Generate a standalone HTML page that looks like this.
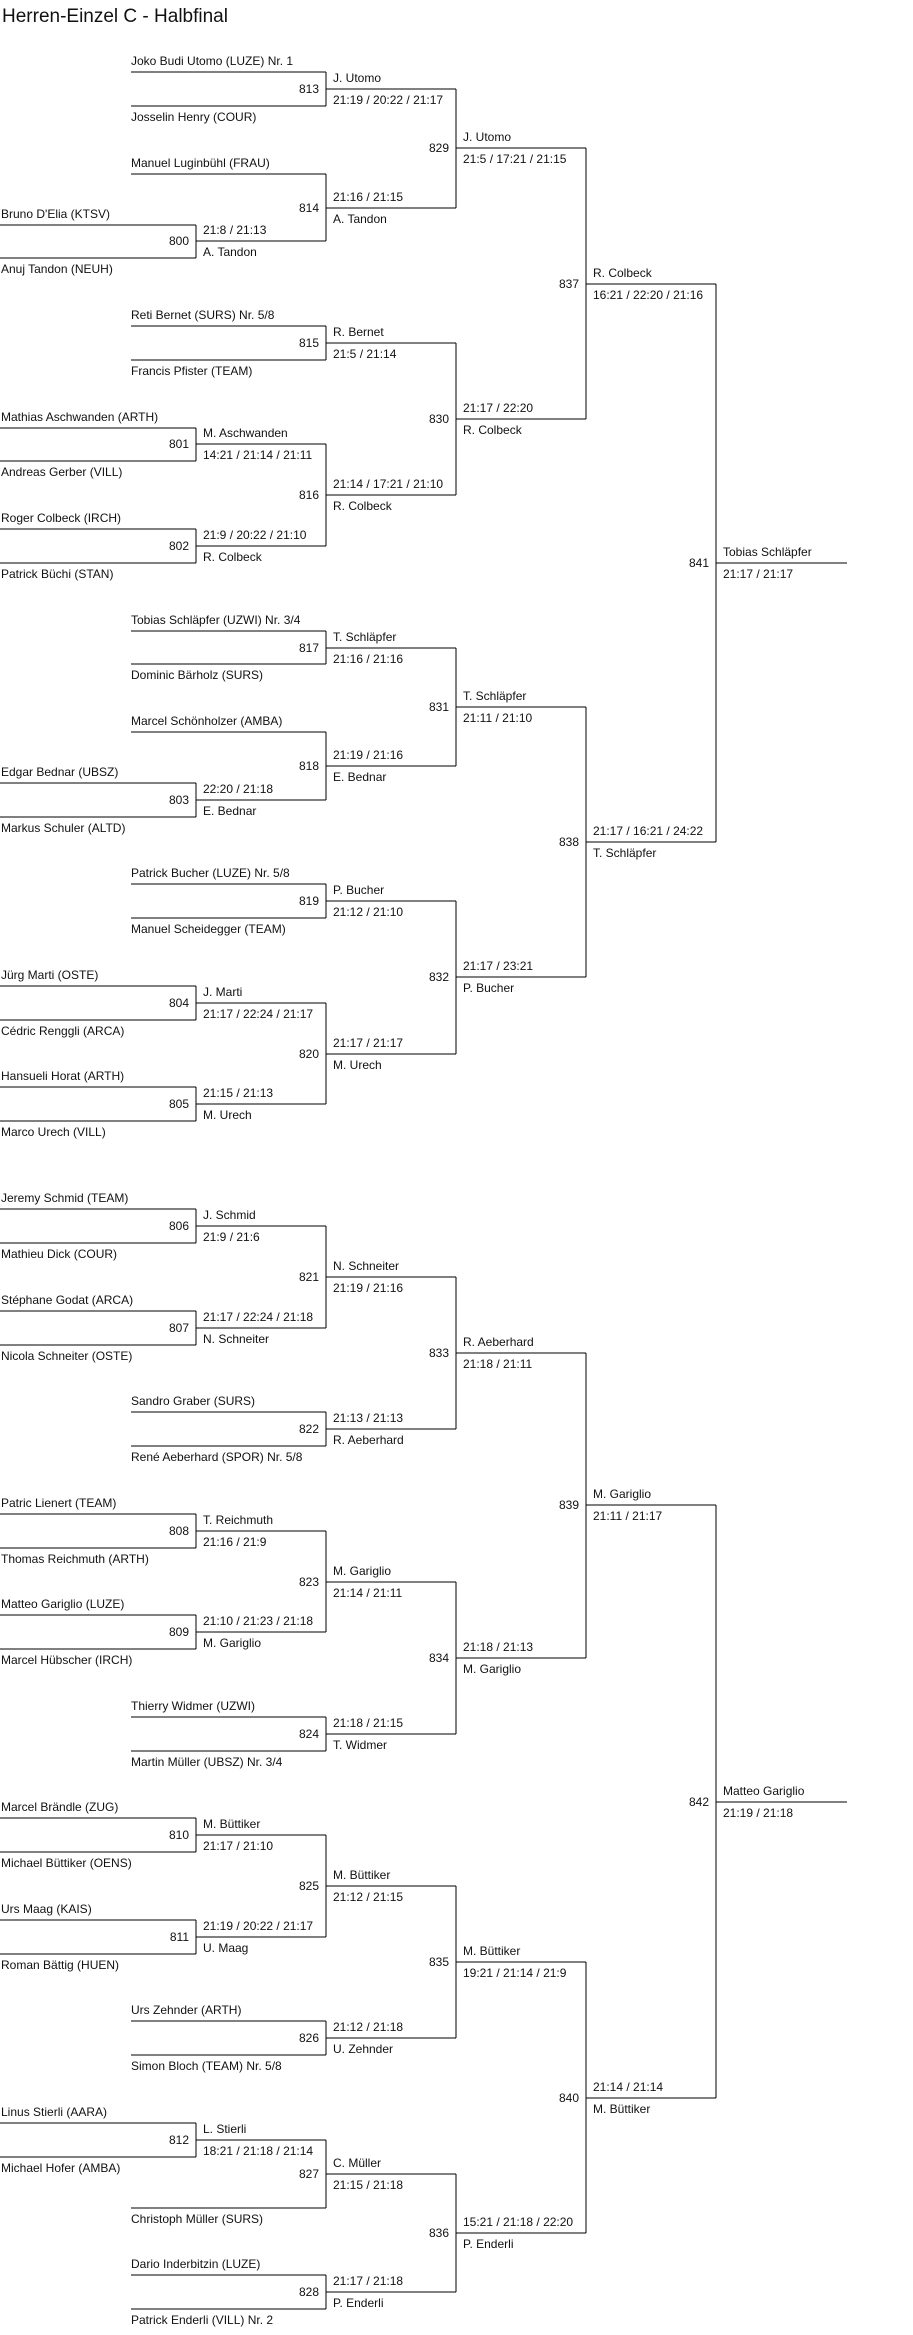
<!DOCTYPE html>
<html><head><meta charset="utf-8"><style>
html,body{margin:0;padding:0;background:#fff;}
svg{display:block;}
text{font-family:"Liberation Sans",Arial,sans-serif;font-size:12px;fill:#111;}
.t{font-size:19px;}
.e{text-anchor:end;}
</style></head><body>
<svg width="913" height="2335" viewBox="0 0 913 2335" xmlns="http://www.w3.org/2000/svg">
<text class="t" x="2" y="22">Herren-Einzel C - Halbfinal</text>
<g stroke="#000" stroke-width="1" fill="none" shape-rendering="crispEdges">
<path d="M0 225H196M0 258H196M0 428H196M0 461H196M0 529H196M0 563H196M0 783H196M0 817H196M0 986H196M0 1020H196M0 1087H196M0 1121H196"/>
<path d="M131 72H326M131 106H326M131 174H326M131 326H326M131 360H326M131 631H326M131 664H326M131 732H326M131 884H326M131 918H326"/>
<path d="M0 1209H196M0 1243H196M0 1311H196M0 1345H196M0 1514H196M0 1548H196M0 1615H196M0 1649H196M0 1818H196M0 1852H196M0 1920H196M0 1954H196M0 2123H196M0 2157H196"/>
<path d="M131 1412H326M131 1446H326M131 1717H326M131 1751H326M131 2021H326M131 2055H326M131 2208H326M131 2275H326M131 2309H326"/>
<path d="M196 225V258M196 241H326M196 428V461M196 444H326M196 529V563M196 546H326M196 783V817M196 800H326M196 986V1020M196 1003H326M196 1087V1121M196 1104H326"/>
<path d="M326 72V106M326 89H456M326 174V241M326 208H456M326 326V360M326 343H456M326 444V546M326 495H456M326 631V664M326 648H456M326 732V800M326 766H456M326 884V918M326 901H456M326 1003V1104M326 1054H456"/>
<path d="M456 89V208M456 148H586M456 343V495M456 419H586M456 648V766M456 707H586M456 901V1054M456 977H586"/>
<path d="M586 148V419M586 284H716M586 707V977M586 842H716M716 284V842M716 563H847"/>
<path d="M196 1209V1243M196 1226H326M196 1311V1345M196 1328H326M196 1514V1548M196 1531H326M196 1615V1649M196 1632H326M196 1818V1852M196 1835H326M196 1920V1954M196 1937H326M196 2123V2157M196 2140H326"/>
<path d="M326 1226V1328M326 1277H456M326 1412V1446M326 1429H456M326 1531V1632M326 1582H456M326 1717V1751M326 1734H456M326 1835V1937M326 1886H456M326 2021V2055M326 2038H456M326 2140V2208M326 2174H456M326 2275V2309M326 2292H456"/>
<path d="M456 1277V1429M456 1353H586M456 1582V1734M456 1658H586M456 1886V2038M456 1962H586M456 2174V2292M456 2233H586"/>
<path d="M586 1353V1658M586 1505H716M586 1962V2233M586 2098H716M716 1505V2098M716 1802H847"/>
</g>
<g>
<!-- players top half -->
<text x="131" y="65">Joko Budi Utomo (LUZE) Nr. 1</text>
<text x="131" y="121">Josselin Henry (COUR)</text>
<text x="131" y="167">Manuel Luginbühl (FRAU)</text>
<text x="1" y="218">Bruno D'Elia (KTSV)</text>
<text x="1" y="273">Anuj Tandon (NEUH)</text>
<text x="131" y="319">Reti Bernet (SURS) Nr. 5/8</text>
<text x="131" y="375">Francis Pfister (TEAM)</text>
<text x="1" y="421">Mathias Aschwanden (ARTH)</text>
<text x="1" y="476">Andreas Gerber (VILL)</text>
<text x="1" y="522">Roger Colbeck (IRCH)</text>
<text x="1" y="578">Patrick Büchi (STAN)</text>
<text x="131" y="624">Tobias Schläpfer (UZWI) Nr. 3/4</text>
<text x="131" y="679">Dominic Bärholz (SURS)</text>
<text x="131" y="725">Marcel Schönholzer (AMBA)</text>
<text x="1" y="776">Edgar Bednar (UBSZ)</text>
<text x="1" y="832">Markus Schuler (ALTD)</text>
<text x="131" y="877">Patrick Bucher (LUZE) Nr. 5/8</text>
<text x="131" y="933">Manuel Scheidegger (TEAM)</text>
<text x="1" y="979">Jürg Marti (OSTE)</text>
<text x="1" y="1035">Cédric Renggli (ARCA)</text>
<text x="1" y="1080">Hansueli Horat (ARTH)</text>
<text x="1" y="1136">Marco Urech (VILL)</text>
<!-- players bottom half -->
<text x="1" y="1202">Jeremy Schmid (TEAM)</text>
<text x="1" y="1258">Mathieu Dick (COUR)</text>
<text x="1" y="1304">Stéphane Godat (ARCA)</text>
<text x="1" y="1360">Nicola Schneiter (OSTE)</text>
<text x="131" y="1405">Sandro Graber (SURS)</text>
<text x="131" y="1461">René Aeberhard (SPOR) Nr. 5/8</text>
<text x="1" y="1507">Patric Lienert (TEAM)</text>
<text x="1" y="1563">Thomas Reichmuth (ARTH)</text>
<text x="1" y="1608">Matteo Gariglio (LUZE)</text>
<text x="1" y="1664">Marcel Hübscher (IRCH)</text>
<text x="131" y="1710">Thierry Widmer (UZWI)</text>
<text x="131" y="1766">Martin Müller (UBSZ) Nr. 3/4</text>
<text x="1" y="1811">Marcel Brändle (ZUG)</text>
<text x="1" y="1867">Michael Büttiker (OENS)</text>
<text x="1" y="1913">Urs Maag (KAIS)</text>
<text x="1" y="1969">Roman Bättig (HUEN)</text>
<text x="131" y="2014">Urs Zehnder (ARTH)</text>
<text x="131" y="2070">Simon Bloch (TEAM) Nr. 5/8</text>
<text x="1" y="2116">Linus Stierli (AARA)</text>
<text x="1" y="2172">Michael Hofer (AMBA)</text>
<text x="131" y="2223">Christoph Müller (SURS)</text>
<text x="131" y="2268">Dario Inderbitzin (LUZE)</text>
<text x="131" y="2324">Patrick Enderli (VILL) Nr. 2</text>

<!-- match numbers -->
<text class="e" x="189" y="245">800</text>
<text class="e" x="189" y="448">801</text>
<text class="e" x="189" y="550">802</text>
<text class="e" x="189" y="804">803</text>
<text class="e" x="189" y="1007">804</text>
<text class="e" x="189" y="1108">805</text>
<text class="e" x="319" y="93">813</text>
<text class="e" x="319" y="212">814</text>
<text class="e" x="319" y="347">815</text>
<text class="e" x="319" y="499">816</text>
<text class="e" x="319" y="652">817</text>
<text class="e" x="319" y="770">818</text>
<text class="e" x="319" y="905">819</text>
<text class="e" x="319" y="1058">820</text>
<text class="e" x="449" y="152">829</text>
<text class="e" x="449" y="423">830</text>
<text class="e" x="449" y="711">831</text>
<text class="e" x="449" y="981">832</text>
<text class="e" x="579" y="288">837</text>
<text class="e" x="579" y="846">838</text>
<text class="e" x="709" y="567">841</text>
<text class="e" x="189" y="1230">806</text>
<text class="e" x="189" y="1332">807</text>
<text class="e" x="189" y="1535">808</text>
<text class="e" x="189" y="1636">809</text>
<text class="e" x="189" y="1839">810</text>
<text class="e" x="189" y="1941">811</text>
<text class="e" x="189" y="2144">812</text>
<text class="e" x="319" y="1281">821</text>
<text class="e" x="319" y="1433">822</text>
<text class="e" x="319" y="1586">823</text>
<text class="e" x="319" y="1738">824</text>
<text class="e" x="319" y="1890">825</text>
<text class="e" x="319" y="2042">826</text>
<text class="e" x="319" y="2178">827</text>
<text class="e" x="319" y="2296">828</text>
<text class="e" x="449" y="1357">833</text>
<text class="e" x="449" y="1662">834</text>
<text class="e" x="449" y="1966">835</text>
<text class="e" x="449" y="2237">836</text>
<text class="e" x="579" y="1509">839</text>
<text class="e" x="579" y="2102">840</text>
<text class="e" x="709" y="1806">842</text>

<!-- winners: col0 outputs (x=203) -->
<text x="203" y="234">21:8 / 21:13</text><text x="203" y="256">A. Tandon</text>
<text x="203" y="437">M. Aschwanden</text><text x="203" y="459">14:21 / 21:14 / 21:11</text>
<text x="203" y="539">21:9 / 20:22 / 21:10</text><text x="203" y="561">R. Colbeck</text>
<text x="203" y="793">22:20 / 21:18</text><text x="203" y="815">E. Bednar</text>
<text x="203" y="996">J. Marti</text><text x="203" y="1018">21:17 / 22:24 / 21:17</text>
<text x="203" y="1097">21:15 / 21:13</text><text x="203" y="1119">M. Urech</text>
<text x="203" y="1219">J. Schmid</text><text x="203" y="1241">21:9 / 21:6</text>
<text x="203" y="1321">21:17 / 22:24 / 21:18</text><text x="203" y="1343">N. Schneiter</text>
<text x="203" y="1524">T. Reichmuth</text><text x="203" y="1546">21:16 / 21:9</text>
<text x="203" y="1625">21:10 / 21:23 / 21:18</text><text x="203" y="1647">M. Gariglio</text>
<text x="203" y="1828">M. Büttiker</text><text x="203" y="1850">21:17 / 21:10</text>
<text x="203" y="1930">21:19 / 20:22 / 21:17</text><text x="203" y="1952">U. Maag</text>
<text x="203" y="2133">L. Stierli</text><text x="203" y="2155">18:21 / 21:18 / 21:14</text>
<!-- col1 outputs (x=333) -->
<text x="333" y="82">J. Utomo</text><text x="333" y="104">21:19 / 20:22 / 21:17</text>
<text x="333" y="201">21:16 / 21:15</text><text x="333" y="223">A. Tandon</text>
<text x="333" y="336">R. Bernet</text><text x="333" y="358">21:5 / 21:14</text>
<text x="333" y="488">21:14 / 17:21 / 21:10</text><text x="333" y="510">R. Colbeck</text>
<text x="333" y="641">T. Schläpfer</text><text x="333" y="663">21:16 / 21:16</text>
<text x="333" y="759">21:19 / 21:16</text><text x="333" y="781">E. Bednar</text>
<text x="333" y="894">P. Bucher</text><text x="333" y="916">21:12 / 21:10</text>
<text x="333" y="1047">21:17 / 21:17</text><text x="333" y="1069">M. Urech</text>
<text x="333" y="1270">N. Schneiter</text><text x="333" y="1292">21:19 / 21:16</text>
<text x="333" y="1422">21:13 / 21:13</text><text x="333" y="1444">R. Aeberhard</text>
<text x="333" y="1575">M. Gariglio</text><text x="333" y="1597">21:14 / 21:11</text>
<text x="333" y="1727">21:18 / 21:15</text><text x="333" y="1749">T. Widmer</text>
<text x="333" y="1879">M. Büttiker</text><text x="333" y="1901">21:12 / 21:15</text>
<text x="333" y="2031">21:12 / 21:18</text><text x="333" y="2053">U. Zehnder</text>
<text x="333" y="2167">C. Müller</text><text x="333" y="2189">21:15 / 21:18</text>
<text x="333" y="2285">21:17 / 21:18</text><text x="333" y="2307">P. Enderli</text>
<!-- col2 outputs (x=463) -->
<text x="463" y="141">J. Utomo</text><text x="463" y="163">21:5 / 17:21 / 21:15</text>
<text x="463" y="412">21:17 / 22:20</text><text x="463" y="434">R. Colbeck</text>
<text x="463" y="700">T. Schläpfer</text><text x="463" y="722">21:11 / 21:10</text>
<text x="463" y="970">21:17 / 23:21</text><text x="463" y="992">P. Bucher</text>
<text x="463" y="1346">R. Aeberhard</text><text x="463" y="1368">21:18 / 21:11</text>
<text x="463" y="1651">21:18 / 21:13</text><text x="463" y="1673">M. Gariglio</text>
<text x="463" y="1955">M. Büttiker</text><text x="463" y="1977">19:21 / 21:14 / 21:9</text>
<text x="463" y="2226">15:21 / 21:18 / 22:20</text><text x="463" y="2248">P. Enderli</text>
<!-- col3 outputs (x=593) -->
<text x="593" y="277">R. Colbeck</text><text x="593" y="299">16:21 / 22:20 / 21:16</text>
<text x="593" y="835">21:17 / 16:21 / 24:22</text><text x="593" y="857">T. Schläpfer</text>
<text x="593" y="1498">M. Gariglio</text><text x="593" y="1520">21:11 / 21:17</text>
<text x="593" y="2091">21:14 / 21:14</text><text x="593" y="2113">M. Büttiker</text>
<!-- finals (x=723) -->
<text x="723" y="556">Tobias Schläpfer</text><text x="723" y="578">21:17 / 21:17</text>
<text x="723" y="1795">Matteo Gariglio</text><text x="723" y="1817">21:19 / 21:18</text>
</g>
</svg>
</body></html>
